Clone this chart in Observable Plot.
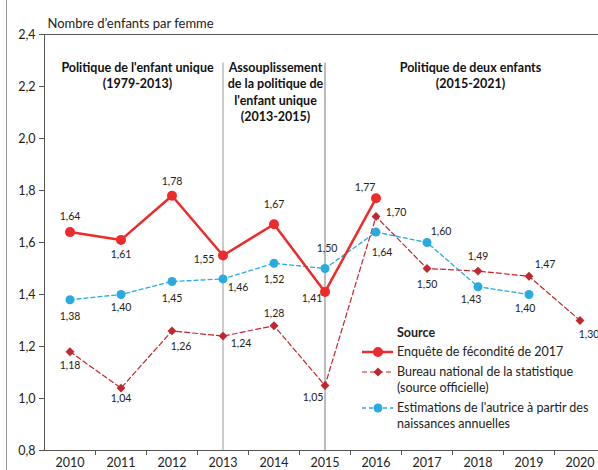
<!DOCTYPE html>
<html><head><meta charset="utf-8">
<script src="https://cdn.jsdelivr.net/npm/d3@7"></script>
<script src="https://cdn.jsdelivr.net/npm/@observablehq/plot@0.6"></script>
<style>
html,body{margin:0;padding:0;background:#fff;}
#wrap{position:relative;width:598px;height:470px;overflow:hidden;font-family:Lato,"Open Sans",sans-serif;}
#frame{position:absolute;left:6px;top:0;width:0;height:470px;border-left:1px solid #9a9a9a;}
#chart svg{max-width:none !important;}
#legend{position:absolute;left:362px;top:325px;font-size:12.5px;color:#222;line-height:16px;}
#legend .row{display:flex;align-items:flex-start;margin-bottom:4px;}
#legend svg{flex:none;margin-right:4px;margin-top:0px;}
</style>
</head><body>
<div id="wrap"><div id="frame"></div><div id="chart"></div>
<div id="legend"></div></div>
<script>
const years = [2010, 2011, 2012, 2013, 2014, 2015, 2016, 2017, 2018, 2019, 2020];
const enquete = [1.64, 1.61, 1.78, 1.55, 1.67, 1.41, 1.77];
const bureau = [1.18, 1.04, 1.26, 1.24, 1.28, 1.05, 1.70, 1.50, 1.49, 1.47, 1.30];
const estimations = [1.38, 1.40, 1.45, 1.46, 1.52, 1.50, 1.64, 1.60, 1.43, 1.40];
const yTicks = [0.8, 1.0, 1.2, 1.4, 1.6, 1.8, 2.0, 2.2, 2.4];
const seriesNames = ["Enquête de fécondité de 2017", "Bureau national de la statistique\n(source officielle)", "Estimations de l'autrice à partir des\nnaissances annuelles"];
const policyYears = [2013, 2015];
const periods = [
  "Politique de l'enfant unique\n(1979-2013)",
  "Assouplissement\nde la politique de\nl'enfant unique\n(2013-2015)",
  "Politique de deux enfants\n(2015-2021)"
];

// layout (label offsets in px), not data
const offEnq = [[0,-15],[0,15],[0,-14],[-19,4],[0,-20],[-13,7],[-11,-11]];
const offBur = [[0,14],[0,11],[9,16],[18,8],[0,-12],[-12,12],[20,-4],[0,16],[0,-14],[16,-12],[9,14]];
const offEst = [[0,17],[0,13],[0,17],[15,9],[0,16],[2,-20],[6,21],[14,-11],[-7,13],[-4,14]];
const cRed = "#ee2b2b", cDark = "#c1272d", cBlue = "#29abe2";

const mk = (vals) => vals.map((v, i) => ({year: years[i], value: v}));
const dEnq = mk(enquete), dBur = mk(bureau), dEst = mk(estimations);
const fmt = v => v.toFixed(2).replace(".", ",");

function labels(data, offs) {
  return data.map((d, i) => Plot.text([d], {x: "year", y: "value", text: d => fmt(d.value),
    dx: offs[i][0], dy: offs[i][1], fontSize: 10.5, fill: "#222"}));
}
const periodStyle = {frameAnchor: "top-left", textAnchor: "middle", lineAnchor: "top", dy: 26,
  fontSize: 12.5, fontWeight: "bold", lineHeight: 1.3, fill: "#111"};

const chart = Plot.plot({
  width: 606, height: 470,
  marginLeft: 44, marginRight: 1, marginTop: 34, marginBottom: 20,
  style: {fontFamily: "Lato, 'Open Sans', sans-serif", background: "transparent", overflow: "visible", maxWidth: "none"},
  x: {domain: [2009.5, 2020.5]},
  y: {domain: [0.8, 2.4]},
  marks: [
    Plot.ruleX([policyYears[0]], {y1: 0.8, y2: 2.29, stroke: "#b0b0b0", strokeWidth: 1.3}),
    Plot.ruleX([policyYears[1]], {y1: 0.8, y2: 2.29, stroke: "#7a7a7a", strokeWidth: 1}),
    Plot.ruleY([2.4], {stroke: "#555"}),
    Plot.ruleY([0.8], {stroke: "#555"}),
    Plot.ruleX([2009.5], {stroke: "#555"}),
    Plot.axisY({ticks: yTicks, tickFormat: v => v.toFixed(1).replace(".", ","), tickSize: 5, tickPadding: 4,
      fontSize: 12.5, label: null, stroke: "#555", color: "#222"}),
    Plot.axisX({ticks: years.slice(0, -1).map(y => y + 0.5), tickFormat: () => "", tickSize: 5, stroke: "#555", label: null}),
    Plot.axisX({ticks: years, tickFormat: d => String(d), tickSize: 0, tickPadding: 8, fontSize: 12.5, label: null, color: "#222"}),
    Plot.text(["Nombre d’enfants par femme"], {frameAnchor: "top-left", textAnchor: "start", dx: 3, dy: -16, fontSize: 13, fill: "#222"}),
    Plot.text([periods[0]], {...periodStyle, dx: 93}),
    Plot.text([periods[1]], {...periodStyle, dx: 231}),
    Plot.text([periods[2]], {...periodStyle, dx: 426}),
    Plot.line(dEst, {x: "year", y: "value", stroke: cBlue, strokeWidth: 1.3, strokeDasharray: "4,3"}),
    Plot.line(dBur, {x: "year", y: "value", stroke: cDark, strokeWidth: 1.2, strokeDasharray: "5,3"}),
    Plot.line(dEnq, {x: "year", y: "value", stroke: cRed, strokeWidth: 2.5}),
    Plot.dot(dEst, {x: "year", y: "value", r: 4.5, fill: cBlue, stroke: "none"}),
    Plot.dot(dBur, {x: "year", y: "value", r: 4, symbol: "diamond2", fill: cDark, stroke: "none"}),
    Plot.dot(dEnq, {x: "year", y: "value", r: 5, fill: cRed, stroke: "none"}),
    ...labels(dEnq, offEnq),
    ...labels(dBur, offBur),
    ...labels(dEst, offEst)
  ]
});
document.getElementById("chart").appendChild(chart);

// legend
const lg = document.getElementById("legend");
const styles = [
  {c: cRed, w: 2.5, dash: "", sym: "circle"},
  {c: cDark, w: 1.2, dash: "5,3", sym: "diamond"},
  {c: cBlue, w: 1.3, dash: "4,3", sym: "circle"}
];
let html = '<div style="font-weight:bold;margin-left:35px;margin-bottom:3px;">Source</div>';
seriesNames.forEach((n, i) => {
  const s = styles[i];
  const m = s.sym === "circle" ? `<circle cx="16" cy="8" r="${i===0?5:4.5}" fill="${s.c}"/>`
    : `<path d="M16,3.5 L20.5,8 L16,12.5 L11.5,8 Z" fill="${s.c}"/>`;
  html += `<div class="row"><svg width="31" height="16"><line x1="0" x2="31" y1="8" y2="8" stroke="${s.c}" stroke-width="${s.w}" stroke-dasharray="${s.dash}"/>${m}</svg><div>${n.replace("\n","<br>")}</div></div>`;
});
lg.innerHTML = html;
</script>
</body></html>
